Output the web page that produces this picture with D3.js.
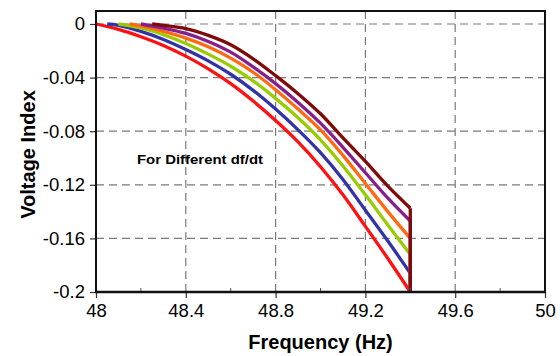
<!DOCTYPE html>
<html>
<head>
<meta charset="utf-8">
<script src="https://cdn.jsdelivr.net/npm/d3@7"></script>
<style>
  html, body { margin: 0; padding: 0; background: #fff; }
  svg text { font-family: Arial, "Liberation Sans", Helvetica, sans-serif; fill: #000; }
</style>
</head>
<body>
<div id="chart"></div>
<script>
// tick labels
const xTicks = [48, 48.4, 48.8, 49.2, 49.6, 50];
const xTickLabels = ['48', '48.4', '48.8', '49.2', '49.6', '50'];
const xMinorTicks = [48.2, 48.6, 49.0, 49.4, 49.8];
const yTicks = [0, -0.04, -0.08, -0.12, -0.16, -0.2];
const yTickLabels = ['0', '-0.04', '-0.08', '-0.12', '-0.16', '-0.2'];

// one curve per df/dt (frequency in Hz, voltage index)
const redHz = [48.00, 48.10, 48.20, 48.30, 48.40, 48.50, 48.60, 48.70, 48.80, 48.90, 49.00, 49.10, 49.20, 49.30, 49.40];
const redV = [0, -0.004, -0.0095, -0.016, -0.024, -0.0335, -0.0445, -0.0575, -0.072, -0.088, -0.1065, -0.1275, -0.151, -0.175, -0.200];

const blueHz = [48.05, 48.10, 48.20, 48.30, 48.40, 48.50, 48.60, 48.70, 48.80, 48.90, 49.00, 49.10, 49.20, 49.30, 49.40];
const blueV = [0, -0.001, -0.0055, -0.0115, -0.019, -0.0275, -0.0375, -0.0495, -0.0635, -0.079, -0.096, -0.116, -0.139, -0.162, -0.186];

const greenHz = [48.10, 48.20, 48.30, 48.40, 48.50, 48.60, 48.70, 48.80, 48.90, 49.00, 49.10, 49.20, 49.30, 49.40];
const greenV = [0, -0.003, -0.008, -0.0145, -0.0225, -0.0315, -0.0425, -0.0555, -0.070, -0.0865, -0.106, -0.1275, -0.150, -0.172];

const orangeHz = [48.15, 48.20, 48.30, 48.40, 48.50, 48.60, 48.70, 48.80, 48.90, 49.00, 49.10, 49.20, 49.30, 49.40];
const orangeV = [0, -0.0015, -0.0055, -0.0105, -0.017, -0.0255, -0.036, -0.049, -0.0635, -0.079, -0.098, -0.119, -0.140, -0.160];

const purpleHz = [48.20, 48.30, 48.40, 48.50, 48.60, 48.70, 48.80, 48.90, 49.00, 49.10, 49.20, 49.30, 49.40];
const purpleV = [0, -0.003, -0.007, -0.013, -0.021, -0.032, -0.0445, -0.0585, -0.074, -0.092, -0.111, -0.130, -0.147];

const maroonHz = [48.25, 48.30, 48.40, 48.50, 48.60, 48.70, 48.80, 48.90, 49.00, 49.10, 49.20, 49.30, 49.40];
const maroonV = [0, -0.001, -0.0035, -0.0085, -0.0155, -0.026, -0.0385, -0.052, -0.067, -0.085, -0.1025, -0.121, -0.1375];

// every curve drops straight down to this point at the end
const dropHz = 49.4;
const dropV = -0.2;

const series = [
  { hz: redHz, v: redV, color: '#ff1111' },
  { hz: blueHz, v: blueV, color: '#3333a8' },
  { hz: greenHz, v: greenV, color: '#99cc00' },
  { hz: orangeHz, v: orangeV, color: '#ff6a10' },
  { hz: purpleHz, v: purpleV, color: '#861f8c' },
  { hz: maroonHz, v: maroonV, color: '#7f0a0a' }
];

const W = 560, H = 356;
const margin = { top: 11, right: 15, bottom: 64, left: 96 };
const width = W - margin.left - margin.right;
const height = H - margin.top - margin.bottom;

const svg = d3.select('#chart')
  .append('svg')
  .attr('width', W)
  .attr('height', H);

const x = d3.scaleLinear().domain([48, 50]).range([0, width]);
const y = d3.scaleLinear().domain([-0.2, 0.0097]).range([height, 0]);

const chart = svg.append('g')
  .attr('transform', `translate(${margin.left}, ${margin.top})`);

// dashed grid
chart.append('g')
  .selectAll('line')
  .data(xTicks.slice(1, -1))
  .enter()
  .append('line')
  .attr('x1', d => x(d)).attr('x2', d => x(d))
  .attr('y1', 0).attr('y2', height)
  .attr('stroke', '#7a7a7a')
  .attr('stroke-width', 1.2)
  .attr('stroke-dasharray', '8,5');

chart.append('g')
  .selectAll('line')
  .data(yTicks.slice(0, -1))
  .enter()
  .append('line')
  .attr('x1', 0).attr('x2', width)
  .attr('y1', d => y(d)).attr('y2', d => y(d))
  .attr('stroke', '#7a7a7a')
  .attr('stroke-width', 1.2)
  .attr('stroke-dasharray', '8,5');

// curves
const line = d3.line()
  .x(d => x(d[0]))
  .y(d => y(d[1]))
  .curve(d3.curveCatmullRom.alpha(0.5));

series.forEach(s => {
  const pts = s.hz.map((h, i) => [h, s.v[i]]);
  chart.append('path')
    .datum(pts)
    .attr('fill', 'none')
    .attr('stroke', s.color)
    .attr('stroke-width', 3.3)
    .attr('stroke-linejoin', 'round')
    .attr('d', line);
  const last = pts[pts.length - 1];
  chart.append('line')
    .attr('x1', x(last[0])).attr('x2', x(dropHz))
    .attr('y1', y(last[1])).attr('y2', y(dropV))
    .attr('stroke', s.color)
    .attr('stroke-width', 3.3);
});

// axes
const xAxis = d3.axisBottom(x)
  .tickValues(xTicks)
  .tickFormat((d, i) => xTickLabels[i])
  .tickSize(6)
  .tickPadding(6);

const yAxis = d3.axisLeft(y)
  .tickValues(yTicks)
  .tickFormat((d, i) => yTickLabels[i])
  .tickSize(6)
  .tickPadding(5);

const gx = chart.append('g')
  .attr('transform', `translate(0, ${height})`)
  .call(xAxis);
const gy = chart.append('g').call(yAxis);

[gx, gy].forEach(g => {
  g.select('.domain').remove();
  g.selectAll('.tick line').attr('stroke', '#333').attr('stroke-width', 1.2);
  g.selectAll('.tick text')
    .style('font-size', '18.5px')
    .attr('fill', '#000');
});

// small inward minor ticks on the x axis
chart.append('g')
  .selectAll('line')
  .data(xMinorTicks)
  .enter()
  .append('line')
  .attr('x1', d => x(d)).attr('x2', d => x(d))
  .attr('y1', height).attr('y2', height - 4)
  .attr('stroke', '#555')
  .attr('stroke-width', 1);

// frame
chart.append('rect')
  .attr('x', 0).attr('y', 0)
  .attr('width', width).attr('height', height)
  .attr('fill', 'none')
  .attr('stroke', '#111')
  .attr('stroke-width', 2);

chart.append('line')
  .attr('x1', -1).attr('x2', width + 1)
  .attr('y1', height).attr('y2', height)
  .attr('stroke', '#111')
  .attr('stroke-width', 2.6);

// labels
svg.append('text')
  .attr('x', margin.left + width / 2)
  .attr('y', 349)
  .attr('text-anchor', 'middle')
  .style('font-size', '20px')
  .style('font-weight', 'bold')
  .text('Frequency (Hz)');

svg.append('text')
  .attr('transform', `translate(35, ${margin.top + height / 2 + 3}) rotate(-90)`)
  .attr('text-anchor', 'middle')
  .style('font-size', '20px')
  .style('font-weight', 'bold')
  .text('Voltage Index');

svg.append('text')
  .attr('x', 137)
  .attr('y', 164)
  .attr('textLength', 126)
  .attr('lengthAdjust', 'spacingAndGlyphs')
  .style('font-size', '13px')
  .style('font-weight', 'bold')
  .text('For Different df/dt');
</script>
</body>
</html>
